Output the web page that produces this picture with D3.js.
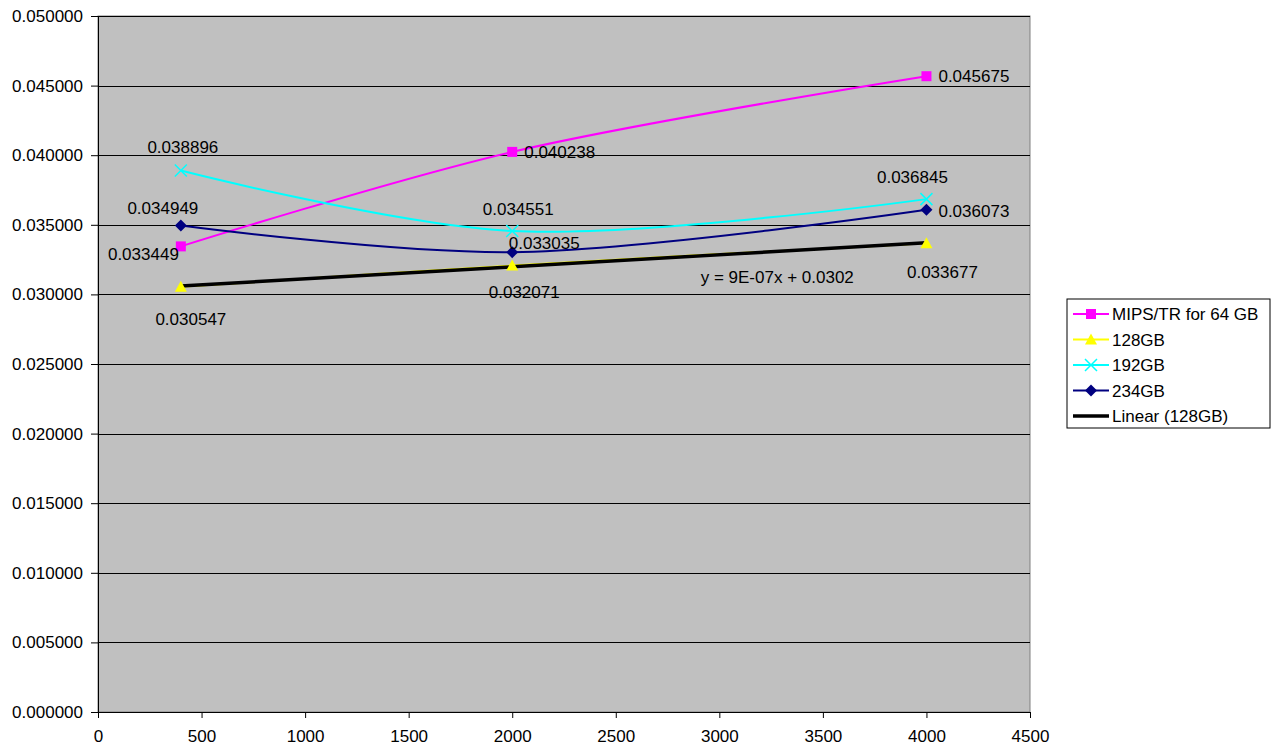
<!DOCTYPE html>
<html>
<head>
<meta charset="utf-8">
<script src="https://cdn.jsdelivr.net/npm/d3@7"></script>
<style>
  body { margin: 0; background: #fff; }
  text { font-family: "Liberation Sans", Arial, sans-serif; font-size: 17px; fill: #000; }
</style>
</head>
<body>
<div id="vis"></div>
<script>
// data
var sizes = [400, 2000, 4000];
var mips64 = [0.033449, 0.040238, 0.045675];
var gb128 = [0.030547, 0.032071, 0.033677];
var gb192 = [0.038896, 0.034551, 0.036845];
var gb234 = [0.034949, 0.033035, 0.036073];
var seriesNames = ['MIPS/TR for 64 GB', '128GB', '192GB', '234GB'];
var xTicks = [0, 500, 1000, 1500, 2000, 2500, 3000, 3500, 4000, 4500];
var yTicks = [0, 0.005, 0.01, 0.015, 0.02, 0.025, 0.03, 0.035, 0.04, 0.045, 0.05];

var width = 1284, height = 751;
var margin = {top: 16, right: 254, bottom: 39, left: 98};
var drawWidth = width - margin.left - margin.right,
    drawHeight = height - margin.top - margin.bottom;

var svg = d3.select('#vis').append('svg')
    .attr('width', width)
    .attr('height', height);

var g = svg.append('g')
    .attr('transform', 'translate(' + margin.left + ',' + margin.top + ')');

var xScale = d3.scaleLinear().domain([0, 4500]).range([0, drawWidth]);
var yScale = d3.scaleLinear().domain([0, 0.05]).range([drawHeight, 0]);

g.append('rect')
    .attr('width', drawWidth)
    .attr('height', drawHeight)
    .attr('fill', '#c0c0c0')
    .attr('stroke', '#808080');

// gridlines
g.selectAll('.grid')
    .data(yTicks.filter(d => d > 0))
    .enter().append('line')
    .attr('x1', 0).attr('x2', drawWidth)
    .attr('y1', d => Math.round(yScale(d)) + 0.5)
    .attr('y2', d => Math.round(yScale(d)) + 0.5)
    .attr('stroke', '#000')
    .attr('stroke-width', 1);

var xAxis = d3.axisBottom(xScale).tickValues(xTicks).tickSizeOuter(0).tickSize(6).tickPadding(12)
    .tickFormat(d3.format('d'));
var yAxis = d3.axisLeft(yScale).tickValues(yTicks).tickSizeOuter(0).tickSize(7).tickPadding(8)
    .tickFormat(d3.format('.6f'));

var xg = g.append('g').attr('transform', 'translate(0,' + drawHeight + ')').call(xAxis);
var yg = g.append('g').call(yAxis);
[xg, yg].forEach(function(a) {
    a.select('.domain').attr('stroke', '#000');
    a.selectAll('line').attr('stroke', '#000');
    a.selectAll('text').style('font-size', '17px').attr('fill', '#000');
});

// series drawing
var styles = [
    {color: '#ff00ff', marker: 'square', labels: [[-2, 14, 'end'], [12, 6, 'start'], [12, 6, 'start']]},
    {color: '#ffff00', marker: 'triangle', labels: [[10, 38, 'middle'], [12, 32, 'middle'], [16, 35, 'middle']]},
    {color: '#00ffff', marker: 'x', labels: [[2, -18, 'middle'], [6, -16, 'middle'], [-14, -16, 'middle']]},
    {color: '#000080', marker: 'diamond', labels: [[-18, -12, 'middle'], [32, -3, 'middle'], [12, 7, 'start']]}
];
var allValues = [mips64, gb128, gb192, gb234];

var line = d3.line()
    .x(d => xScale(d[0]))
    .y(d => yScale(d[1]))
    .curve(d3.curveCatmullRom.alpha(0.5));

function drawMarker(sel, type, color) {
    if (type === 'square') {
        sel.append('rect').attr('x', -5).attr('y', -5).attr('width', 10).attr('height', 10).attr('fill', color);
    } else if (type === 'triangle') {
        sel.append('path').attr('d', 'M0,-6L6,5L-6,5Z').attr('fill', color);
    } else if (type === 'x') {
        sel.append('path').attr('d', 'M-6,-6L6,6M-6,6L6,-6').attr('stroke', color).attr('stroke-width', 1.5);
    } else if (type === 'diamond') {
        sel.append('path').attr('d', 'M0,-6L6,0L0,6L-6,0Z').attr('fill', color);
    }
}

// draw order: 128GB first, then its trendline, then others
var drawOrder = [1, 0, 2, 3];

// linear trendline for 128GB
var n = sizes.length,
    mx = d3.mean(sizes),
    my = d3.mean(gb128);
var sxy = d3.sum(sizes, (x, i) => (x - mx) * (gb128[i] - my)),
    sxx = d3.sum(sizes, x => (x - mx) * (x - mx));
var slope = sxy / sxx, intercept = my - slope * mx;

drawOrder.forEach(function(si) {
    var vals = allValues[si], st = styles[si];
    var pts = sizes.map((x, i) => [x, vals[i]]);
    g.append('path')
        .datum(pts)
        .attr('d', line)
        .attr('fill', 'none')
        .attr('stroke', st.color)
        .attr('stroke-width', 2);
    if (si === 1) {
        g.append('line')
            .attr('x1', xScale(sizes[0])).attr('y1', yScale(slope * sizes[0] + intercept))
            .attr('x2', xScale(sizes[n - 1])).attr('y2', yScale(slope * sizes[n - 1] + intercept))
            .attr('stroke', '#000')
            .attr('stroke-width', 3.5);
    }
});

drawOrder.forEach(function(si) {
    var vals = allValues[si], st = styles[si];
    sizes.forEach(function(x, i) {
        var m = g.append('g').attr('transform', 'translate(' + xScale(x) + ',' + yScale(vals[i]) + ')');
        drawMarker(m, st.marker, st.color);
    });
});

drawOrder.forEach(function(si) {
    var vals = allValues[si], st = styles[si];
    sizes.forEach(function(x, i) {
        var lp = st.labels[i];
        g.append('text')
            .attr('x', xScale(x) + lp[0])
            .attr('y', yScale(vals[i]) + lp[1])
            .attr('text-anchor', lp[2])
            .text(d3.format('.6f')(vals[i]));
    });
});

g.append('text')
    .attr('x', xScale(2910))
    .attr('y', yScale(0.0302) - 9)
    .text('y = 9E-07x + 0.0302');

// legend
var legendNames = seriesNames.concat(['Linear (128GB)']);
var legend = svg.append('g').attr('transform', 'translate(1067,299)');
legend.append('rect')
    .attr('width', 203).attr('height', 129)
    .attr('fill', '#fff').attr('stroke', '#000');
legendNames.forEach(function(name, i) {
    var y = 15 + i * 25.5;
    var row = legend.append('g').attr('transform', 'translate(0,' + y + ')');
    if (i < 4) {
        row.append('line').attr('x1', 6).attr('x2', 42).attr('stroke', styles[i].color).attr('stroke-width', 2);
        var m = row.append('g').attr('transform', 'translate(24,0)');
        drawMarker(m, styles[i].marker, styles[i].color);
    } else {
        row.append('line').attr('x1', 6).attr('x2', 42).attr('stroke', '#000').attr('stroke-width', 3.5);
    }
    row.append('text').attr('x', 45).attr('y', 6).text(name);
});
</script>
</body>
</html>
